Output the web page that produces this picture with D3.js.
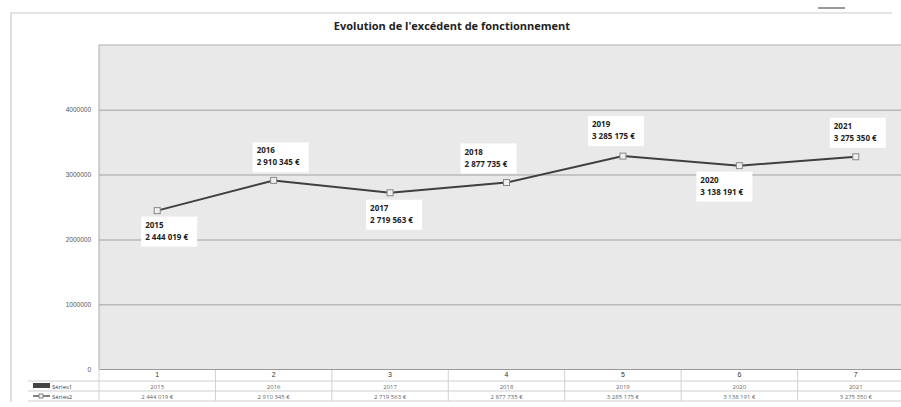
<!DOCTYPE html>
<html>
<head>
<meta charset="utf-8">
<script src="https://cdn.jsdelivr.net/npm/d3@7"></script>
<style>
  body { margin: 0; background: #fff; }
  svg { display: block; font-family: "Open Sans", "Liberation Sans", sans-serif; }
</style>
</head>
<body>
<svg id="chart" width="901" height="407"></svg>
<script>
// chart data
const categories = ['1', '2', '3', '4', '5', '6', '7'];
const years = ['2015', '2016', '2017', '2018', '2019', '2020', '2021'];
const values = [2444019, 2910345, 2719563, 2877735, 3285175, 3138191, 3275350];
const yTicks = [0, 1000000, 2000000, 3000000, 4000000];
const seriesNames = ['Séries1', 'Séries2'];

const svg = d3.select('#chart');
const plotL = 99, plotR = 914, plotT = 45, plotB = 369;

const fr = d3.formatLocale({ decimal: ',', thousands: ' ', grouping: [3], currency: ['', ' €'] });
const euro = fr.format('$,.0f');

const x = d3.scaleBand().domain(categories).range([plotL, plotR]);
const y = d3.scaleLinear().domain([0, 5000000]).range([plotB, plotT]);

// frame of the scanned page
svg.append('line').attr('x1', 10).attr('x2', 892).attr('y1', 13).attr('y2', 13)
  .attr('stroke', '#dcdcdc').attr('stroke-width', 1.5);
svg.append('line').attr('x1', 11).attr('x2', 11).attr('y1', 13).attr('y2', 402)
  .attr('stroke', '#d6d6d6').attr('stroke-width', 1.5);
svg.append('line').attr('x1', 818).attr('x2', 845).attr('y1', 8).attr('y2', 8)
  .attr('stroke', '#777').attr('stroke-width', 1.5);

svg.append('text')
  .attr('x', 452).attr('y', 30)
  .attr('text-anchor', 'middle')
  .attr('font-size', 11).attr('font-weight', 'bold').attr('fill', '#222')
  .text("Evolution de l'excédent de fonctionnement");

// plot area
svg.append('rect')
  .attr('x', plotL).attr('y', plotT)
  .attr('width', plotR - plotL).attr('height', plotB - plotT)
  .attr('fill', '#e9e9e9');
svg.append('line').attr('x1', plotL).attr('x2', plotR).attr('y1', plotT).attr('y2', plotT)
  .attr('stroke', '#c4c4c4').attr('stroke-width', 1.5);

// gridlines + y labels
const yAxis = svg.append('g')
  .attr('transform', `translate(${plotL},0)`)
  .call(d3.axisLeft(y).tickValues(yTicks).tickSize(-(plotR - plotL)).tickPadding(8)
    .tickFormat(d3.format('d')));
yAxis.select('.domain').remove();
yAxis.selectAll('.tick line').attr('stroke', d => d === 0 ? 'none' : '#b9b9b9').attr('stroke-width', 1.5);
yAxis.selectAll('.tick text').attr('font-size', 6.5).attr('fill', '#555');
svg.append('line').attr('x1', plotL).attr('x2', plotL).attr('y1', plotT).attr('y2', plotB)
  .attr('stroke', '#aaa').attr('stroke-width', 1);

// line + markers
const cx = (d, i) => x(categories[i]) + x.bandwidth() / 2;
const line = d3.line().x(cx).y(d => y(d));
svg.append('path').datum(values)
  .attr('d', line).attr('fill', 'none')
  .attr('stroke', '#3f3f3f').attr('stroke-width', 2);
svg.selectAll('.mark').data(values).join('rect')
  .attr('class', 'mark')
  .attr('x', (d, i) => cx(d, i) - 3).attr('y', d => y(d) - 3)
  .attr('width', 6).attr('height', 6)
  .attr('fill', '#eee').attr('stroke', '#888').attr('stroke-width', 1);

// data labels (placement offsets from the point)
const labelOffsets = [[-12, 6], [-17, -38], [-20, 7], [-42, -39], [-31, -40], [-39, 6], [-22, -39]];
const lab = svg.selectAll('.lab').data(values).join('g')
  .attr('class', 'lab')
  .attr('transform', (d, i) => `translate(${cx(d, i) + labelOffsets[i][0]},${y(d) + labelOffsets[i][1]})`);
lab.append('rect')
  .attr('x', -4).attr('y', 0).attr('width', 56).attr('height', 30)
  .attr('fill', '#fff');
lab.append('text')
  .attr('x', 0).attr('y', 11)
  .attr('font-size', 8).attr('font-weight', 'bold').attr('fill', '#222')
  .text((d, i) => years[i]);
lab.append('text')
  .attr('x', 0).attr('y', 23)
  .attr('font-size', 8).attr('font-weight', 'bold').attr('fill', '#222')
  .text(d => euro(d));

// data table under the axis
const rowY = [plotB, 381, 391, 401];
const table = svg.append('g');
table.append('rect').attr('x', plotL).attr('y', plotB).attr('width', plotR - plotL).attr('height', rowY[3] - plotB)
  .attr('fill', '#fff');
[rowY[1], rowY[2], rowY[3]].forEach(v => {
  table.append('line').attr('x1', 28).attr('x2', plotR).attr('y1', v).attr('y2', v)
    .attr('stroke', '#cfcfcf').attr('stroke-width', 1);
});
categories.forEach(c => {
  table.append('line').attr('x1', x(c)).attr('x2', x(c)).attr('y1', plotB).attr('y2', rowY[3])
    .attr('stroke', '#d0d0d0').attr('stroke-width', 1);
});

const xAxis = svg.append('g')
  .attr('transform', `translate(0,${plotB})`)
  .call(d3.axisBottom(x).tickSize(0).tickPadding(3));
xAxis.select('.domain').attr('stroke', '#999');
xAxis.selectAll('.tick text').attr('font-size', 7).attr('fill', '#333');

table.selectAll('.yr').data(years).join('text')
  .attr('class', 'yr')
  .attr('x', (d, i) => x(categories[i]) + x.bandwidth() / 2).attr('y', 389)
  .attr('text-anchor', 'middle').attr('font-size', 6).attr('fill', '#666')
  .text(d => d);
table.selectAll('.val').data(values).join('text')
  .attr('class', 'val')
  .attr('x', (d, i) => x(categories[i]) + x.bandwidth() / 2).attr('y', 399)
  .attr('text-anchor', 'middle').attr('font-size', 6).attr('fill', '#666')
  .text(d => euro(d));

// legend keys in the table
table.append('rect').attr('x', 33).attr('y', 383).attr('width', 17).attr('height', 5).attr('fill', '#444');
table.append('line').attr('x1', 33).attr('x2', 50).attr('y1', 396).attr('y2', 396)
  .attr('stroke', '#555').attr('stroke-width', 1.5);
table.append('rect').attr('x', 39).attr('y', 394).attr('width', 4).attr('height', 4)
  .attr('fill', '#eee').attr('stroke', '#888');
table.selectAll('.leg').data(seriesNames).join('text')
  .attr('class', 'leg')
  .attr('x', 52).attr('y', (d, i) => i === 0 ? 389 : 399)
  .attr('font-size', 6).attr('fill', '#444')
  .text(d => d);
</script>
</body>
</html>
